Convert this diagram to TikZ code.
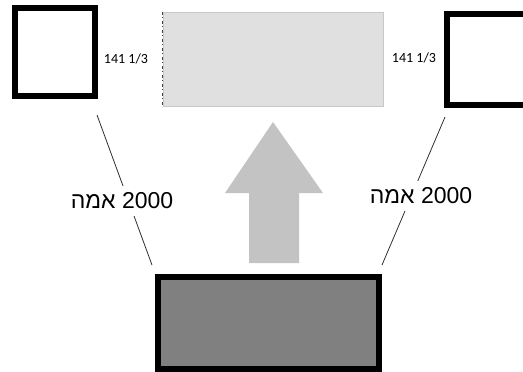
\documentclass[tikz,border=0pt]{standalone}
\usepackage{fontspec}
\setmainfont{Liberation Sans}
\newfontfamily\heb[Script=Hebrew]{Liberation Sans}
\newfontfamily\smallfont{Carlito}
\TeXXeTstate=1
\definecolor{boxlight}{HTML}{E0E0E0}
\definecolor{boxedge}{HTML}{C8C8C8}
\definecolor{arrowgray}{HTML}{C3C3C3}
\definecolor{darkfill}{HTML}{808080}
\definecolor{linegray}{HTML}{303030}
\tikzset{
  thickbox/.style={draw=black, line width=6pt, fill=white, inner sep=0pt},
  lightbox/.style={draw=boxedge, line width=1pt, fill=boxlight, inner sep=0pt},
  basebox/.style={draw=black, line width=5.5pt, fill=darkfill, inner sep=0pt},
  measure/.style={font=\smallfont\fontsize{14}{16}\selectfont, inner sep=0pt},
  distlabel/.style={font=\fontsize{23}{26}\selectfont, fill=white, inner xsep=1pt, inner ysep=7pt},
  connector/.style={draw=linegray, line width=0.8pt},
}
\begin{document}
\begin{tikzpicture}[x=1pt,y=-1pt]
\path[use as bounding box, clip] (0,0) rectangle (523,372);
% boxes
\node[thickbox, minimum width=80pt, minimum height=88pt] (lsq) at (55,52) {};
\node[thickbox, minimum width=83pt, minimum height=91pt] (rsq) at (488.5,59.5) {};
\node[lightbox, minimum width=220pt, minimum height=94pt] (top) at (273,59) {};
\draw[black!75, line width=1pt, dash pattern=on 3pt off 2pt on 1pt off 3pt] (top.north west) -- (top.south west);
\node[basebox, minimum width=221pt, minimum height=92pt] (base) at (268.5,323) {};
% arrow
\path[fill=arrowgray] (249,263) -- (249,193) -- (225,193) -- (273,122) -- (323,193) -- (299,193) -- (299,263) -- cycle;
% measurements
\node[measure] (lm) at (126,59) {141 1/3};
\node[measure] (rm) at (414,58) {141 1/3};
% connectors
\coordinate (lt) at (97,115);
\coordinate (lb) at (152,265);
\coordinate (rt) at (445,117);
\coordinate (rb) at (382,265);
\draw[connector] (lt) -- (lb);
\draw[connector] (rt) -- (rb);
\node[distlabel] (ld) at (122,201) {{\heb\beginR אמה\endR} 2000};
\node[distlabel] (rd) at (421,196) {{\heb\beginR אמה\endR} 2000};
\end{tikzpicture}
\end{document}
